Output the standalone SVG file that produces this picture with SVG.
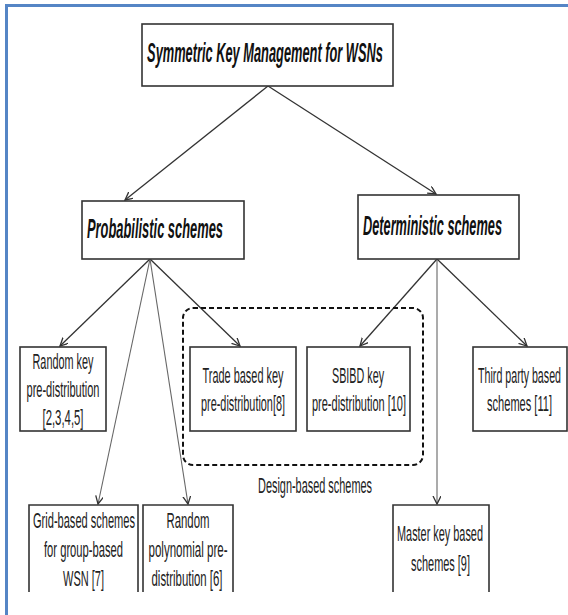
<svg xmlns="http://www.w3.org/2000/svg" width="568" height="615" viewBox="0 0 568 615">
<style>
.frame{fill:none;stroke:#5585C5;stroke-width:3}
.box{fill:#fff;stroke:#333;stroke-width:1.6}
.t{font-family:"Liberation Sans Narrow","Liberation Sans",Arial,sans-serif;font-size:22px;fill:#222;text-anchor:middle}
.h{font-family:"Liberation Sans Narrow","Liberation Sans",Arial,sans-serif;font-size:27px;font-weight:bold;font-style:italic;fill:#111;text-anchor:middle}
.c{fill:none;stroke:#333;stroke-width:1.3}
.cl{fill:none;stroke:#666;stroke-width:1.1}
.dash{fill:none;stroke:#111;stroke-width:2;stroke-dasharray:5 3}
</style>
<defs>
<marker id="arr" markerWidth="10" markerHeight="10" refX="8" refY="4" orient="auto" markerUnits="userSpaceOnUse">
<path d="M0,0 L8,4 L0,8" fill="none" stroke="#333" stroke-width="1.3"/>
</marker>
</defs>
<rect width="568" height="615" fill="#fff"/>
<rect class="frame" x="6.5" y="5.5" width="600" height="700"/>

<g id="connectors">
<line class="c" x1="268" y1="86" x2="125" y2="200" marker-end="url(#arr)"/>
<line class="c" x1="268" y1="86" x2="436" y2="194" marker-end="url(#arr)"/>
<line class="c" x1="150" y1="259" x2="60" y2="346" marker-end="url(#arr)"/>
<line class="c" x1="150" y1="259" x2="240" y2="346" marker-end="url(#arr)"/>
<line class="cl" x1="150" y1="259" x2="98" y2="504" marker-end="url(#arr)"/>
<line class="cl" x1="150" y1="259" x2="188" y2="504" marker-end="url(#arr)"/>
<line class="c" x1="437" y1="259" x2="360" y2="346" marker-end="url(#arr)"/>
<line class="c" x1="437" y1="259" x2="527" y2="346" marker-end="url(#arr)"/>
<line class="cl" x1="437" y1="259" x2="437" y2="504" marker-end="url(#arr)"/>
</g>

<g id="design-group">
<rect class="dash" x="183" y="308" width="240" height="157" rx="10"/>
<text class="t" transform="translate(315,493) scale(0.6,1)" textLength="190" lengthAdjust="spacingAndGlyphs">Design-based schemes</text>
</g>

<g id="root">
<rect class="box" x="142" y="24" width="251" height="62"/>
<text class="h" transform="translate(265,62) scale(0.6,1)" font-size="28" textLength="393" lengthAdjust="spacingAndGlyphs">Symmetric Key Management for WSNs</text>
</g>

<g id="probabilistic">
<rect class="box" x="82" y="201" width="162" height="58"/>
<text class="h" transform="translate(155,238) scale(0.6,1)" textLength="226.7" lengthAdjust="spacingAndGlyphs">Probabilistic schemes</text>
</g>

<g id="deterministic">
<rect class="box" x="358" y="195" width="161" height="64"/>
<text class="h" transform="translate(432.5,235) scale(0.6,1)" textLength="231.7" lengthAdjust="spacingAndGlyphs">Deterministic schemes</text>
</g>

<g id="random-key">
<rect class="box" x="20" y="347" width="86" height="84"/>
<text class="t" transform="translate(63,369) scale(0.6,1)" textLength="101.7" lengthAdjust="spacingAndGlyphs">Random key</text>
<text class="t" transform="translate(63,397) scale(0.6,1)" textLength="121.7" lengthAdjust="spacingAndGlyphs">pre-distribution</text>
<text class="t" transform="translate(63,425) scale(0.6,1)" textLength="68.3" lengthAdjust="spacingAndGlyphs">[2,3,4,5]</text>
</g>

<g id="trade">
<rect class="box" x="190" y="347" width="106" height="84"/>
<text class="t" transform="translate(243,383) scale(0.6,1)" textLength="135" lengthAdjust="spacingAndGlyphs">Trade based key</text>
<text class="t" transform="translate(243,411) scale(0.6,1)" textLength="140" lengthAdjust="spacingAndGlyphs">pre-distribution[8]</text>
</g>

<g id="sbibd">
<rect class="box" x="307" y="347" width="103" height="84"/>
<text class="t" transform="translate(358,383) scale(0.6,1)" textLength="86.7" lengthAdjust="spacingAndGlyphs">SBIBD key</text>
<text class="t" transform="translate(359,411) scale(0.6,1)" textLength="156.7" lengthAdjust="spacingAndGlyphs">pre-distribution [10]</text>
</g>

<g id="third-party">
<rect class="box" x="473" y="347" width="94" height="84"/>
<text class="t" transform="translate(519.5,383) scale(0.6,1)" textLength="138.3" lengthAdjust="spacingAndGlyphs">Third party based</text>
<text class="t" transform="translate(519.5,411) scale(0.6,1)" textLength="108.3" lengthAdjust="spacingAndGlyphs">schemes [11]</text>
</g>

<g id="grid">
<path class="box" d="M29,592 V505 H138 V592"/>
<text class="t" transform="translate(84,528) scale(0.6,1)" textLength="170" lengthAdjust="spacingAndGlyphs">Grid-based schemes</text>
<text class="t" transform="translate(83.5,557) scale(0.6,1)" textLength="131.7" lengthAdjust="spacingAndGlyphs">for group-based</text>
<text class="t" transform="translate(83.5,586) scale(0.6,1)" textLength="68.3" lengthAdjust="spacingAndGlyphs">WSN [7]</text>
</g>

<g id="random-polynomial">
<path class="box" d="M143,592 V505 H233 V592"/>
<text class="t" transform="translate(188,528) scale(0.6,1)" textLength="71.7" lengthAdjust="spacingAndGlyphs">Random</text>
<text class="t" transform="translate(188,557) scale(0.6,1)" textLength="131.7" lengthAdjust="spacingAndGlyphs">polynomial pre-</text>
<text class="t" transform="translate(187,586) scale(0.6,1)" textLength="118.3" lengthAdjust="spacingAndGlyphs">distribution [6]</text>
</g>

<g id="master-key">
<path class="box" d="M393,592 V505 H489 V592"/>
<text class="t" transform="translate(440,541) scale(0.6,1)" textLength="143.3" lengthAdjust="spacingAndGlyphs">Master key based</text>
<text class="t" transform="translate(440.5,571) scale(0.6,1)" textLength="98.3" lengthAdjust="spacingAndGlyphs">schemes [9]</text>
</g>
</svg>
